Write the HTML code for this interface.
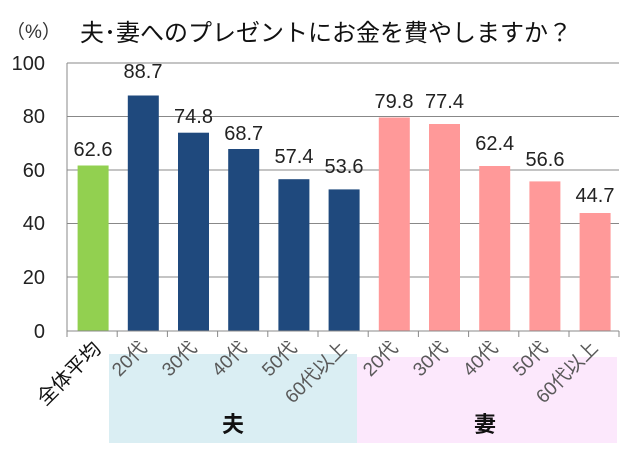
<!DOCTYPE html>
<html><head><meta charset="utf-8"><style>
body{margin:0;background:#fff}
svg text{font-family:"Liberation Sans","Noto Sans CJK JP",sans-serif}
</style></head><body>
<svg width="640" height="462" viewBox="0 0 640 462" xmlns="http://www.w3.org/2000/svg">
<rect width="640" height="462" fill="#fff"/>
<text x="6" y="38" font-size="19" fill="#333">（%）</text>
<text x="80" y="41" font-size="24" fill="#111">夫･妻へのプレゼントにお金を費やしますか？</text>
<rect x="109" y="354" width="248" height="89" fill="#daeef3"/>
<rect x="357" y="357" width="260" height="86" fill="#fce8fc"/>
<g stroke="#888" stroke-width="1">
<line x1="67" y1="63" x2="619" y2="63"/>
<line x1="67" y1="116.5" x2="619" y2="116.5"/>
<line x1="67" y1="170" x2="619" y2="170"/>
<line x1="67" y1="223.5" x2="619" y2="223.5"/>
<line x1="67" y1="277" x2="619" y2="277"/>
<line x1="67" y1="63" x2="67" y2="336"/>
</g>
<g font-size="20" fill="#222" text-anchor="end">
<text x="45" y="70">100</text><text x="45" y="123">80</text><text x="45" y="177">60</text>
<text x="45" y="230">40</text><text x="45" y="284">20</text><text x="45" y="338">0</text>
</g>
<g id="bars">
<rect x="77.6" y="165.5" width="31" height="165.5" fill="#92d050"/>
<rect x="127.8" y="95.5" width="31" height="235.5" fill="#1f497d"/>
<rect x="178" y="132.7" width="31" height="198.3" fill="#1f497d"/>
<rect x="228.2" y="149" width="31" height="182" fill="#1f497d"/>
<rect x="278.4" y="179.2" width="31" height="151.8" fill="#1f497d"/>
<rect x="328.6" y="189.4" width="31" height="141.6" fill="#1f497d"/>
<rect x="378.8" y="117.5" width="31" height="213.5" fill="#ff9999"/>
<rect x="429" y="124" width="31" height="207" fill="#ff9999"/>
<rect x="479.2" y="166" width="31" height="165" fill="#ff9999"/>
<rect x="529.4" y="181.4" width="31" height="149.6" fill="#ff9999"/>
<rect x="579.6" y="213" width="31" height="118" fill="#ff9999"/>
</g>
<g stroke="#888" stroke-width="1">
<line x1="67" y1="331" x2="619" y2="331"/>
<line x1="67" y1="331" x2="67" y2="337"/><line x1="117.2" y1="331" x2="117.2" y2="337"/>
<line x1="167.4" y1="331" x2="167.4" y2="337"/><line x1="217.6" y1="331" x2="217.6" y2="337"/>
<line x1="267.8" y1="331" x2="267.8" y2="337"/><line x1="318" y1="331" x2="318" y2="337"/>
<line x1="368.2" y1="331" x2="368.2" y2="337"/><line x1="418.4" y1="331" x2="418.4" y2="337"/>
<line x1="468.6" y1="331" x2="468.6" y2="337"/><line x1="518.8" y1="331" x2="518.8" y2="337"/>
<line x1="569" y1="331" x2="569" y2="337"/><line x1="619" y1="331" x2="619" y2="337"/>
</g>
<g font-size="20" fill="#222" text-anchor="middle">
<text x="93" y="156">62.6</text><text x="143" y="78">88.7</text><text x="193.5" y="123">74.8</text>
<text x="243.7" y="140">68.7</text><text x="294" y="163">57.4</text><text x="344" y="173">53.6</text>
<text x="394" y="108">79.8</text><text x="444.5" y="108">77.4</text><text x="494.7" y="150">62.4</text>
<text x="545" y="166">56.6</text><text x="595" y="202">44.7</text>
</g>
<g font-size="19" fill="#595959" text-anchor="end">
<text transform="translate(102,350) rotate(-45)" fill="#111" font-size="20">全体平均</text>
<text transform="translate(148,349) rotate(-45)">20代</text>
<text transform="translate(198,349) rotate(-45)">30代</text>
<text transform="translate(248,349) rotate(-45)">40代</text>
<text transform="translate(298,349) rotate(-45)">50代</text>
<text transform="translate(348,349) rotate(-45)">60代以上</text>
<text transform="translate(399,349) rotate(-45)">20代</text>
<text transform="translate(449,349) rotate(-45)">30代</text>
<text transform="translate(499,349) rotate(-45)">40代</text>
<text transform="translate(549,349) rotate(-45)">50代</text>
<text transform="translate(599,349) rotate(-45)">60代以上</text>
</g>
<text x="233" y="432" font-size="22" font-weight="bold" fill="#111" text-anchor="middle">夫</text>
<text x="485" y="432" font-size="22" font-weight="bold" fill="#111" text-anchor="middle">妻</text>
</svg>
</body></html>
